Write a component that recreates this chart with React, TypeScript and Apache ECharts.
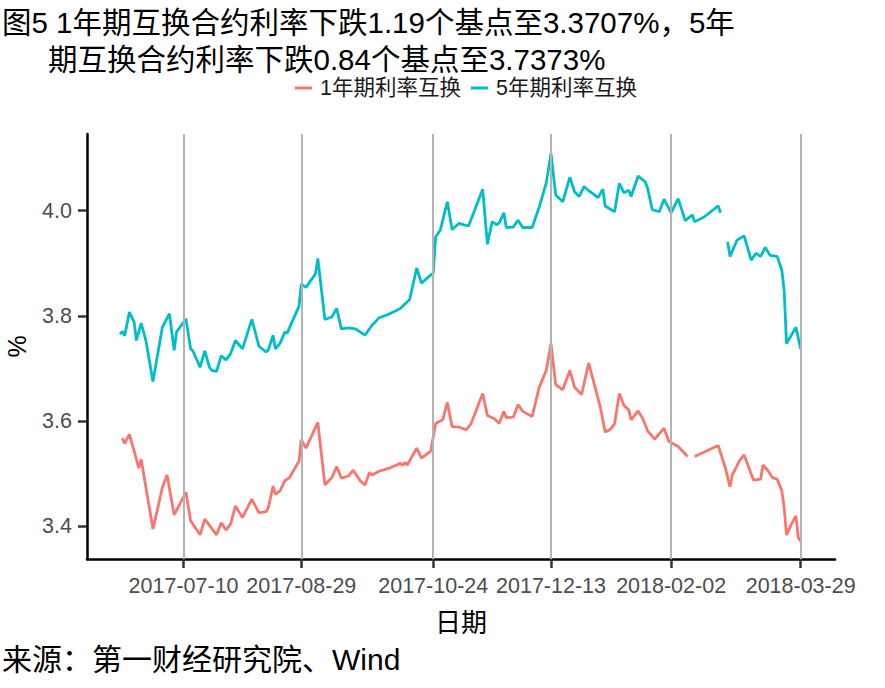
import React, { useEffect, useRef } from "react";
import * as echarts from "echarts";

// ---- data ----
const dates1Y = [
  "2017-06-14","2017-06-15","2017-06-17","2017-06-19","2017-06-21","2017-06-22","2017-06-27","2017-07-01","2017-07-03","2017-07-06",
  "2017-07-08","2017-07-11","2017-07-13","2017-07-17","2017-07-19","2017-07-24","2017-07-26","2017-07-28","2017-07-30","2017-08-01",
  "2017-08-04","2017-08-08","2017-08-11","2017-08-14","2017-08-15","2017-08-17","2017-08-18","2017-08-20","2017-08-22","2017-08-24",
  "2017-08-28","2017-08-29","2017-08-31","2017-09-05","2017-09-08","2017-09-11","2017-09-13","2017-09-15","2017-09-18","2017-09-20",
  "2017-09-23","2017-09-25","2017-09-27","2017-09-28","2017-10-01","2017-10-06","2017-10-10","2017-10-11","2017-10-12","2017-10-13",
  "2017-10-17","2017-10-19","2017-10-23","2017-10-25","2017-10-28","2017-10-30","2017-11-01","2017-11-04","2017-11-07","2017-11-09",
  "2017-11-14","2017-11-16","2017-11-19","2017-11-21","2017-11-23","2017-11-24","2017-11-27","2017-11-29","2017-12-01","2017-12-05",
  "2017-12-08","2017-12-11","2017-12-13","2017-12-15","2017-12-18","2017-12-21","2017-12-23","2017-12-26","2017-12-29","2018-01-03",
  "2018-01-05","2018-01-07","2018-01-09","2018-01-11","2018-01-13","2018-01-15","2018-01-16","2018-01-19","2018-01-21","2018-01-23",
  "2018-01-26","2018-01-30","2018-02-01","2018-02-05","2018-02-09","2018-02-10","2018-02-12","2018-02-22","2018-02-25","2018-02-27",
  "2018-02-28","2018-03-03","2018-03-05","2018-03-09","2018-03-12","2018-03-13","2018-03-15","2018-03-17","2018-03-19","2018-03-21",
  "2018-03-22","2018-03-23","2018-03-25","2018-03-27","2018-03-28","2018-03-29"
];
const rate1Y = [
  3.567,3.557,3.574,3.543,3.510,3.527,3.394,3.473,3.497,3.421,
  3.438,3.464,3.410,3.383,3.413,3.383,3.406,3.392,3.404,3.438,
  3.416,3.451,3.425,3.427,3.435,3.476,3.460,3.467,3.486,3.492,
  3.523,3.564,3.548,3.597,3.478,3.492,3.513,3.491,3.495,3.506,
  3.486,3.478,3.502,3.497,3.504,3.511,3.519,3.515,3.521,3.516,
  3.548,3.529,3.543,3.595,3.602,3.635,3.589,3.588,3.583,3.594,
  3.652,3.610,3.604,3.595,3.618,3.606,3.607,3.631,3.618,3.608,
  3.664,3.696,3.747,3.669,3.659,3.696,3.664,3.650,3.710,3.625,
  3.579,3.583,3.594,3.652,3.629,3.621,3.602,3.619,3.604,3.581,
  3.565,3.586,3.561,3.551,3.532,null,3.532,3.553,3.511,3.474,
  3.497,3.524,3.535,3.487,3.489,3.516,3.506,3.492,3.489,3.467,
  3.435,3.383,3.403,3.419,3.378,3.371
];

const dates5Y = [
  "2017-06-13","2017-06-14","2017-06-15","2017-06-17","2017-06-19","2017-06-20","2017-06-22","2017-06-24","2017-06-27","2017-07-01",
  "2017-07-04","2017-07-06","2017-07-07","2017-07-11","2017-07-13","2017-07-14","2017-07-17","2017-07-19","2017-07-21","2017-07-22",
  "2017-07-24","2017-07-26","2017-07-28","2017-07-30","2017-08-01","2017-08-04","2017-08-08","2017-08-11","2017-08-14","2017-08-15",
  "2017-08-17","2017-08-18","2017-08-20","2017-08-22","2017-08-23","2017-08-26","2017-08-28","2017-08-29","2017-08-31","2017-09-04",
  "2017-09-05","2017-09-08","2017-09-11","2017-09-13","2017-09-15","2017-09-18","2017-09-21","2017-09-25","2017-09-28","2017-10-01",
  "2017-10-04","2017-10-08","2017-10-10","2017-10-14","2017-10-17","2017-10-19","2017-10-22","2017-10-24","2017-10-25","2017-10-27",
  "2017-10-30","2017-11-01","2017-11-04","2017-11-06","2017-11-08","2017-11-14","2017-11-16","2017-11-18","2017-11-20","2017-11-21",
  "2017-11-23","2017-11-24","2017-11-27","2017-11-29","2017-12-01","2017-12-05","2017-12-08","2017-12-11","2017-12-13","2017-12-15",
  "2017-12-18","2017-12-21","2017-12-23","2017-12-25","2017-12-27","2017-12-29","2018-01-02","2018-01-04","2018-01-05","2018-01-09",
  "2018-01-11","2018-01-13","2018-01-15","2018-01-16","2018-01-19","2018-01-22","2018-01-23","2018-01-25","2018-01-28","2018-01-30",
  "2018-02-02","2018-02-05","2018-02-08","2018-02-11","2018-02-12","2018-02-16","2018-02-22","2018-02-23","2018-02-24","2018-02-26",
  "2018-02-27","2018-03-02","2018-03-05","2018-03-08","2018-03-10","2018-03-12","2018-03-14","2018-03-16","2018-03-19","2018-03-21",
  "2018-03-22","2018-03-23","2018-03-27","2018-03-29"
];
const rate5Y = [
  3.765,3.770,3.762,3.807,3.788,3.753,3.786,3.753,3.675,3.778,
  3.804,3.734,3.769,3.794,3.737,3.733,3.702,3.733,3.702,3.696,
  3.694,3.724,3.716,3.728,3.753,3.737,3.793,3.742,3.731,3.735,
  3.763,3.737,3.748,3.769,3.767,3.798,3.818,3.860,3.854,3.880,
  3.909,3.793,3.798,3.814,3.775,3.777,3.775,3.763,3.782,3.796,
  3.801,3.809,3.814,3.831,3.891,3.862,3.874,3.881,3.950,3.963,
  4.017,3.964,3.976,3.973,3.971,4.041,3.936,3.979,3.973,3.977,
  3.996,3.968,3.969,3.982,3.968,3.968,4.007,4.053,4.109,4.030,
  4.017,4.064,4.036,4.027,4.046,4.038,4.025,4.041,4.009,3.998,
  4.052,4.034,4.039,4.027,4.066,4.055,4.043,4.002,3.998,4.022,
  3.996,4.023,3.981,3.992,3.979,3.988,4.009,3.996,null,3.941,
  3.913,3.944,3.952,3.906,3.919,3.913,3.930,3.915,3.913,3.887,
  3.848,3.747,3.778,3.737
];

const seriesNames = ["1年期利率互换", "5年期利率互换"];
const xTickDates = ["2017-07-10", "2017-08-29", "2017-10-24", "2017-12-13", "2018-02-02", "2018-03-29"];
const yTickValues = [3.4, 3.6, 3.8, 4.0];
const xRange = ["2017-05-30", "2018-04-12T14:00:00Z"];
const yRange = [3.337, 4.146];

const titleLine1 = "图5 1年期互换合约利率下跌1.19个基点至3.3707%，5年";
const titleLine2 = "期互换合约利率下跌0.84个基点至3.7373%";
const xAxisTitle = "日期";
const yAxisTitle = "%";
const sourceText = "来源：第一财经研究院、Wind";

const LATIN = "'Liberation Sans', Arial, 'Noto Sans CJK SC', sans-serif";

const toTs = (d: string) => Date.parse(d.length === 10 ? d + "T00:00:00Z" : d);
const fmtDate = (v: number) => new Date(v).toISOString().slice(0, 10);

export default function App() {
  const ref = useRef<HTMLDivElement>(null);

  useEffect(() => {
    if (!ref.current) return;
    const chart = echarts.init(ref.current, undefined, { renderer: "svg" });
    const tickTs = xTickDates.map(toTs);

    const option: any = {
      animation: false,
      backgroundColor: "#ffffff",
      grid: { left: 87, right: 50, top: 134, bottom: 129, containLabel: false, outerBoundsMode: "none" },
      legend: {
        data: seriesNames,
        left: 295,
        top: 76,
        padding: 0,
        icon: "rect",
        itemWidth: 17,
        itemHeight: 3,
        itemGap: 10,
        selectedMode: false,
        textStyle: {
          fontSize: 21.5,
          fontFamily: LATIN,
          color: "#1a1a1a",
          lineHeight: 24,
          padding: [0, 0, 0, 3],
        },
      },
      xAxis: {
        type: "value",
        min: toTs(xRange[0]),
        max: toTs(xRange[1]),
        name: xAxisTitle,
        nameLocation: "middle",
        nameGap: 51,
        nameTextStyle: { fontSize: 26, fontFamily: LATIN, color: "#000000" },
        axisLine: { show: true, onZero: false, lineStyle: { color: "#000000", width: 2.5 } },
        axisTick: { show: true, length: 9, lineStyle: { color: "#333333", width: 2.5 }, customValues: tickTs },
        axisLabel: {
          show: true,
          customValues: tickTs,
          margin: 16,
          fontSize: 21.5,
          fontFamily: LATIN,
          color: "#4d4d4d",
          formatter: (v: number) => fmtDate(v),
        },
        splitLine: { show: false },
      },
      yAxis: {
        type: "value",
        min: yRange[0],
        max: yRange[1],
        name: yAxisTitle,
        nameLocation: "middle",
        nameGap: 58,
        nameRotate: 90,
        nameTextStyle: { fontSize: 25, fontFamily: LATIN, color: "#000000" },
        axisLine: { show: true, onZero: false, lineStyle: { color: "#000000", width: 2.5 } },
        axisTick: { show: true, length: 9, lineStyle: { color: "#333333", width: 2.5 }, customValues: yTickValues },
        axisLabel: {
          show: true,
          customValues: yTickValues,
          margin: 15,
          fontSize: 21.5,
          fontFamily: LATIN,
          color: "#4d4d4d",
          formatter: (v: number) => v.toFixed(1),
        },
        splitLine: { show: false },
      },
      series: [
        {
          type: "line",
          name: "gridlines",
          data: [],
          z: 1,
          silent: true,
          markLine: {
            silent: true,
            symbol: "none",
            label: { show: false },
            lineStyle: { color: "#b3b3b3", width: 2, type: "solid" },
            data: tickTs.map((t) => ({ xAxis: t })),
          },
        },
        {
          type: "line",
          name: seriesNames[0],
          z: 3,
          data: dates1Y.map((d, i) => [toTs(d), rate1Y[i]]),
          showSymbol: false,
          connectNulls: false,
          color: "#F8766D",
          lineStyle: { color: "#F8766D", width: 2.8 },
        },
        {
          type: "line",
          name: seriesNames[1],
          z: 3,
          data: dates5Y.map((d, i) => [toTs(d), rate5Y[i]]),
          showSymbol: false,
          connectNulls: false,
          color: "#00BFC4",
          lineStyle: { color: "#00BFC4", width: 2.8 },
        },
      ],
      graphic: [
        {
          type: "text",
          x: 2,
          y: 22,
          style: { text: titleLine1, fontSize: 29.5, fontFamily: LATIN, fill: "#000000", verticalAlign: "middle" },
        },
        {
          type: "text",
          x: 48,
          y: 59,
          style: { text: titleLine2, fontSize: 29.5, fontFamily: LATIN, fill: "#000000", verticalAlign: "middle" },
        },
        {
          type: "text",
          x: 2,
          y: 659,
          style: { text: sourceText, fontSize: 30, fontFamily: LATIN, fill: "#000000", verticalAlign: "middle" },
        },
      ],
    };

    chart.setOption(option);
    return () => chart.dispose();
  }, []);

  return (
    <div
      ref={ref}
      style={{ position: "fixed", left: 0, top: 0, width: 885, height: 688, background: "#fff" }}
    />
  );
}
